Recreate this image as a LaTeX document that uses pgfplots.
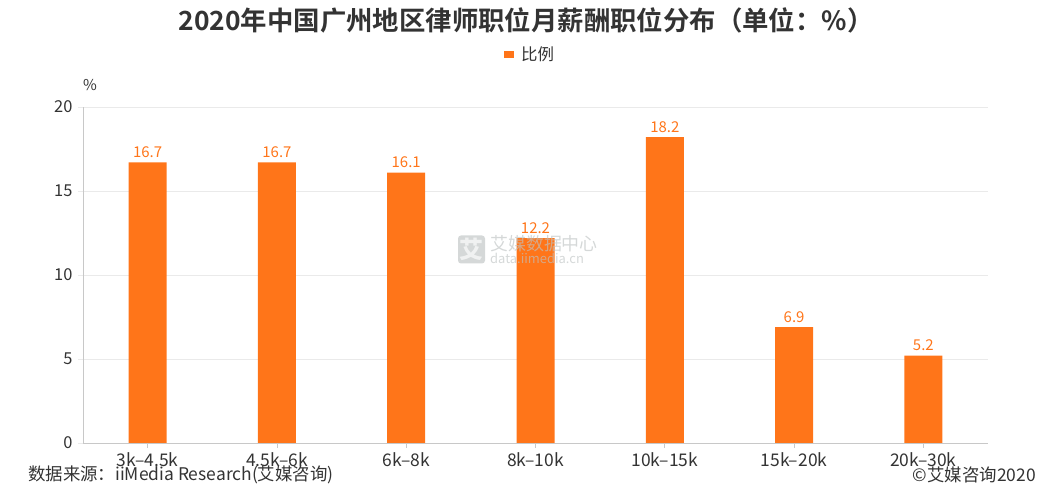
\documentclass[border=0pt]{standalone}
\usepackage{pgfplots}
\pgfplotsset{compat=1.18}
\usepackage{fontspec}
\setmainfont{Noto Sans CJK SC}
\newfontfamily\boldcjk{Noto Sans CJK SC Bold}
\definecolor{barorange}{RGB}{255,117,25}
\definecolor{txtgray}{RGB}{51,51,51}
\definecolor{gridgray}{RGB}{234,234,234}
\definecolor{axisgray}{RGB}{200,200,200}
\definecolor{wmgray}{RGB}{190,195,195}
\pgfplotstableread{
x val
0 16.7
1 16.7
2 16.1
3 12.2
4 18.2
5 6.9
6 5.2
}\datatable
\begin{document}
\begin{tikzpicture}[x=1bp,y=1bp]
\path[use as bounding box] (-83,-57) rectangle (977,443);
\begin{axis}[
  at={(0,0)}, anchor=south west,
  scale only axis, width=905bp, height=336bp,
  xmin=-0.5, xmax=6.5, ymin=0, ymax=20,
  ybar, bar width=38bp,
  enlargelimits=false,
  axis x line*=bottom, axis y line*=left,
  axis line style={axisgray, line width=0.8bp},
  xtick={0,...,6},
  xticklabels={3k–4.5k,4.5k–6k,6k–8k,8k–10k,10k–15k,15k–20k,20k–30k},
  ytick={0,5,10,15,20},
  ymajorgrids, grid style={gridgray, line width=0.8bp},
  tick align=outside, major tick length=5bp,
  x tick style={axisgray, line width=0.8bp},
  y tick style={gridgray, line width=0.8bp},
  /pgf/number format/assume math mode=true,
  ticklabel style={text=txtgray},
  yticklabel style={xshift=-2bp, font=\fontsize{16.5}{16.5}\selectfont},
  xticklabel style={yshift=-1bp, font=\fontsize{17.5}{17.5}\selectfont},
  nodes near coords,
  nodes near coords style={text=barorange, font=\fontsize{15}{15}\selectfont, /pgf/number format/fixed, /pgf/number format/fixed zerofill, /pgf/number format/precision=1, yshift=1bp},
  clip=false,
]
\addplot[fill=barorange, draw=none] table[x=x,y=val] {\datatable};
\end{axis}
% watermark (on top, semi-transparent)
\begin{scope}[opacity=0.65]
\node[fill=wmgray,rounded corners=3bp,minimum width=27bp,minimum height=28bp,inner sep=0pt,text=white,font=\fontsize{24}{24}\selectfont\bfseries] at (388.5,193.5) {艾};
\node[anchor=west,text=wmgray,font=\fontsize{18}{18}\selectfont,inner sep=0pt] at (407,199) {艾媒数据中心};
\node[anchor=west,text=wmgray,font=\fontsize{13}{13}\selectfont,inner sep=0pt] at (407,185) {data.iimedia.cn};
\end{scope}
% title
\node[text=txtgray, font=\fontsize{26.5}{26.5}\selectfont\boldcjk] at (443,423) {2020年中国广州地区律师职位月薪酬职位分布（单位：\%）};
% legend
\fill[barorange] (421,385) rectangle (431,392);
\node[anchor=west, text=txtgray, font=\fontsize{16.5}{16.5}\selectfont, inner sep=0pt] at (438,388.5) {比例};
% percent label
\node[text=txtgray, font=\fontsize{15}{15}\selectfont] at (7,358) {\%};
% footer
\node[anchor=west, text=txtgray, font=\fontsize{17.5}{17.5}\selectfont, inner sep=0pt] at (-55,-32) {数据来源：iiMedia Research(艾媒咨询)};
\node[anchor=east, text=txtgray, font=\fontsize{17.5}{17.5}\selectfont, inner sep=0pt] at (953,-32) {©艾媒咨询2020};
\end{tikzpicture}
\end{document}
